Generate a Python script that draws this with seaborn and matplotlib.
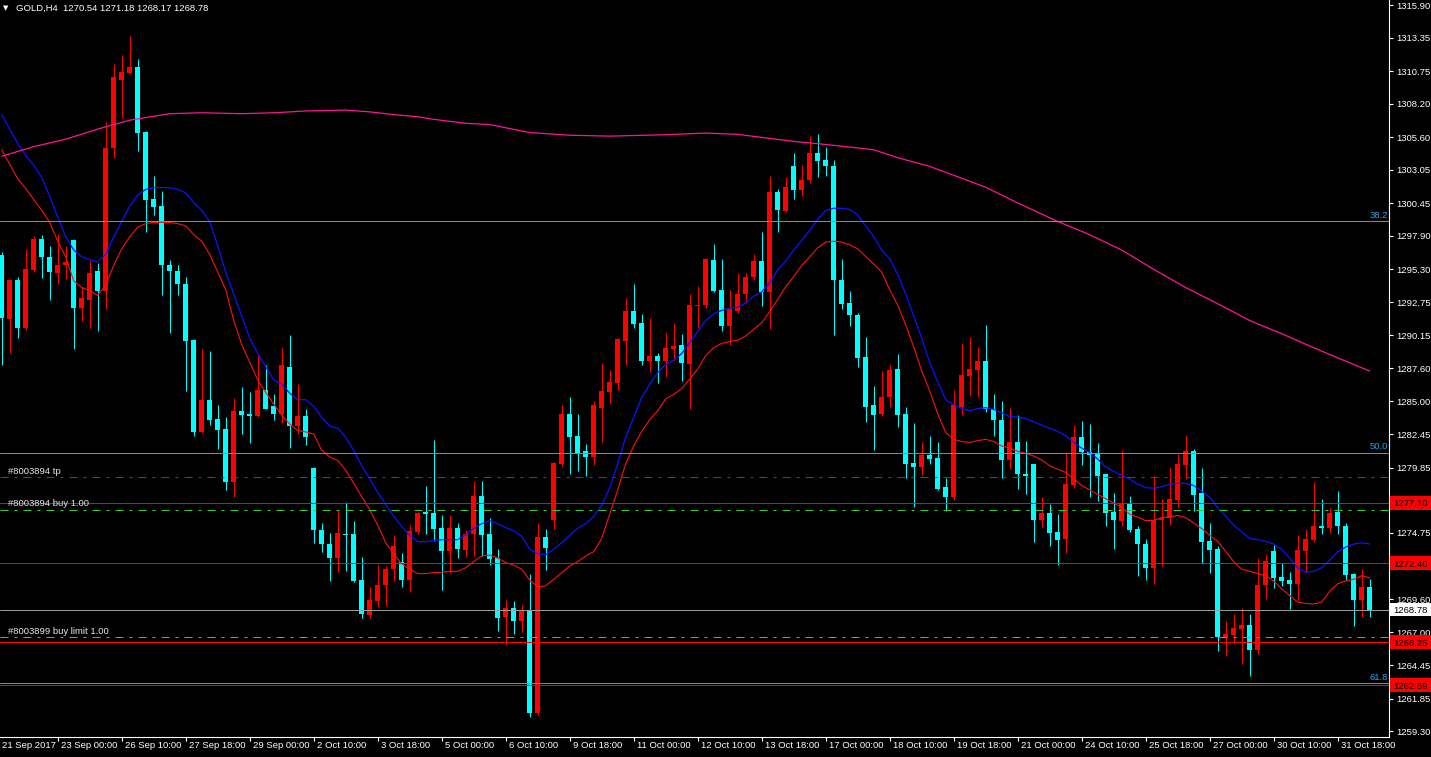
import matplotlib
matplotlib.use("Agg")
import matplotlib.pyplot as plt
import matplotlib.transforms as mtransforms
from matplotlib.patches import Rectangle
import numpy as np
import pandas as pd
import seaborn as sns

# ---------------- data (GOLD, H4) ----------------
opens = [1296.39,1291.41,1294.47,1290.73,1295.26,1297.66,1296.29,1294.98,1295.60,1297.59,
         1292.27,1292.92,1295.15,1293.61,1304.76,1310.07,1310.62,1311.07,1305.99,1300.81,
         1300.23,1295.60,1295.15,1294.16,1289.80,1282.63,1285.14,1283.62,1282.84,1278.76,
         1284.25,1284.01,1283.87,1285.89,1284.62,1284.01,1287.71,1283.08,1283.87,1279.82,
         1275.02,1273.89,1272.79,1274.71,1274.68,1271.08,1268.37,1269.43,1270.66,1271.93,
         1272.52,1271.08,1274.81,1276.39,1276.29,1275.12,1273.37,1275.12,1273.41,1274.68,
         1277.66,1274.68,1272.79,1268.19,1268.91,1267.89,1268.67,1260.72,1274.44,1275.77,
         1280.10,1284.01,1282.29,1281.12,1280.68,1284.52,1285.72,1286.44,1289.70,1292.07,
         1291.11,1288.12,1288.57,1288.16,1289.08,1289.39,1287.95,1292.44,1292.51,1296.01,
         1293.68,1290.90,1292.07,1293.34,1294.74,1295.94,1293.54,1301.33,1299.82,1303.32,
         1301.50,1302.29,1304.35,1303.83,1303.32,1294.47,1292.68,1291.72,1288.47,1284.73,
         1284.01,1285.34,1287.54,1284.01,1280.20,1279.92,1280.85,1280.61,1278.35,1277.59,
         1284.55,1287.02,1287.47,1288.16,1284.45,1283.59,1280.47,1281.81,1279.31,1280.10,
         1275.77,1276.29,1274.85,1274.26,1278.52,1282.22,1281.09,1280.92,1279.31,1276.39,
         1275.71,1277.01,1275.09,1273.89,1272.03,1275.77,1275.88,1277.32,1280.06,1281.12,
         1277.83,1274.16,1273.54,1266.62,1266.79,1267.30,1267.58,1265.66,1270.66,1273.37,
         1271.32,1271.08,1270.80,1273.37,1274.23,1275.29,1275.12,1276.39,1275.29,1271.52,
         1269.53,1270.54]
highs = [1296.63,1294.57,1294.74,1296.87,1297.90,1298.00,1297.14,1298.07,1297.14,1297.70,
         1293.95,1295.94,1295.77,1306.82,1311.27,1311.99,1313.47,1311.69,1306.05,1302.56,
         1301.43,1296.01,1295.67,1294.67,1289.85,1289.08,1288.91,1284.73,1283.77,1285.28,
         1286.10,1285.72,1288.64,1287.81,1285.55,1289.15,1290.18,1286.37,1284.38,1279.89,
         1275.53,1274.75,1276.56,1277.15,1275.67,1272.86,1270.53,1272.24,1272.20,1274.57,
         1273.20,1275.36,1276.39,1278.42,1281.98,1276.12,1276.15,1275.53,1275.02,1278.79,
         1278.79,1275.88,1273.54,1269.50,1269.43,1269.12,1271.52,1275.53,1275.09,1280.27,
         1284.76,1285.31,1284.01,1281.71,1285.04,1287.98,1287.44,1289.94,1293.03,1294.12,
         1291.83,1291.48,1288.74,1290.35,1291.14,1290.28,1293.37,1293.99,1296.22,1297.31,
         1296.11,1293.71,1294.98,1294.98,1296.53,1298.24,1302.56,1301.53,1302.46,1304.35,
         1303.42,1305.72,1305.86,1304.83,1303.83,1296.11,1293.64,1291.90,1290.01,1286.24,
         1287.37,1287.88,1288.67,1284.55,1283.32,1281.81,1282.29,1281.81,1279.03,1285.93,
         1289.53,1290.01,1289.25,1290.97,1285.55,1285.07,1284.52,1283.94,1281.95,1280.15,
         1277.52,1277.01,1276.22,1281.02,1283.18,1283.49,1283.25,1281.78,1279.37,1277.87,
         1281.19,1277.66,1275.29,1274.27,1279.20,1277.38,1279.89,1280.92,1282.39,1281.30,
         1279.82,1275.53,1273.75,1267.89,1268.47,1268.91,1268.40,1272.79,1273.13,1273.82,
         1272.45,1271.69,1274.57,1275.09,1278.69,1277.42,1276.67,1278.04,1275.53,1271.66,
         1271.93,1271.18]
lows = [1287.88,1288.74,1289.94,1290.60,1295.08,1294.64,1292.92,1294.12,1294.57,1289.08,
        1291.31,1290.69,1290.52,1292.24,1304.00,1307.09,1310.55,1304.52,1298.24,1299.54,
        1293.30,1290.35,1293.27,1285.82,1282.29,1282.56,1283.15,1281.30,1278.07,1277.52,
        1282.46,1281.78,1283.80,1284.38,1283.56,1283.32,1281.36,1282.46,1281.61,1273.99,
        1273.30,1270.97,1271.69,1271.76,1270.90,1268.09,1268.16,1269.02,1269.09,1271.01,
        1270.53,1270.15,1274.70,1274.68,1274.16,1270.32,1271.66,1272.79,1272.86,1272.96,
        1272.96,1272.28,1267.10,1266.00,1266.89,1267.03,1260.44,1260.54,1271.83,1275.09,
        1279.99,1279.31,1279.58,1279.20,1280.06,1281.88,1284.86,1285.89,1287.88,1290.76,
        1287.88,1287.26,1286.44,1286.92,1288.23,1286.58,1284.38,1290.73,1292.27,1293.51,
        1290.49,1289.42,1291.93,1292.68,1294.50,1292.44,1290.63,1298.17,1299.75,1300.81,
        1301.02,1302.01,1302.46,1302.60,1290.21,1292.17,1290.90,1287.71,1283.42,1281.19,
        1283.83,1284.55,1282.98,1279.07,1276.80,1279.24,1280.16,1278.11,1276.46,1277.32,
        1283.94,1285.41,1285.31,1284.21,1282.33,1279.03,1279.72,1278.14,1277.76,1274.06,
        1275.19,1273.75,1272.28,1273.20,1278.28,1280.06,1277.52,1277.25,1275.29,1273.54,
        1275.29,1274.85,1271.42,1271.08,1270.80,1272.17,1275.36,1276.73,1278.96,1276.46,
        1272.45,1271.66,1265.52,1265.17,1266.17,1264.56,1263.60,1265.31,1269.60,1270.46,
        1270.63,1268.81,1269.50,1271.66,1274.06,1274.68,1274.78,1274.68,1271.08,1267.47,
        1268.22,1268.17]
closes = [1291.48,1294.47,1290.73,1295.33,1297.66,1296.29,1295.08,1295.60,1295.87,1292.27,
          1293.03,1295.02,1293.61,1304.76,1310.25,1310.69,1311.07,1305.89,1300.74,1300.13,
          1295.60,1295.15,1294.12,1289.73,1282.63,1285.14,1283.59,1282.81,1278.76,1284.25,
          1283.94,1283.90,1285.89,1284.45,1284.01,1287.81,1283.08,1283.87,1282.22,1275.02,
          1273.89,1272.79,1274.75,1274.61,1271.01,1268.43,1269.50,1270.66,1271.93,1273.72,
          1271.08,1274.92,1276.29,1276.22,1275.09,1273.37,1275.12,1273.54,1274.68,1277.66,
          1274.57,1272.69,1268.13,1268.91,1267.89,1268.67,1260.72,1274.44,1273.58,1280.20,
          1284.01,1282.22,1281.02,1280.68,1284.69,1285.82,1286.51,1289.84,1292.07,1291.04,
          1288.16,1288.57,1288.16,1289.15,1289.32,1287.98,1292.51,1292.55,1296.11,1293.61,
          1290.87,1292.17,1293.37,1294.74,1295.94,1293.54,1301.33,1299.89,1301.70,1301.50,
          1302.29,1304.35,1303.76,1303.32,1294.47,1292.62,1291.76,1288.40,1284.55,1283.94,
          1285.34,1287.47,1283.94,1280.16,1279.92,1280.85,1280.51,1278.21,1277.59,1284.69,
          1287.06,1287.54,1288.16,1284.45,1283.59,1280.47,1281.81,1279.31,1279.20,1275.77,
          1276.29,1274.78,1274.23,1278.55,1282.22,1281.09,1280.85,1279.20,1276.32,1275.77,
          1277.01,1275.02,1273.89,1272.03,1275.77,1275.94,1277.38,1280.16,1281.12,1277.69,
          1274.06,1273.41,1266.62,1266.86,1267.37,1267.58,1265.66,1270.73,1272.55,1271.25,
          1271.01,1270.80,1273.41,1274.27,1275.29,1275.16,1276.29,1275.26,1271.49,1269.53,
          1270.56,1268.78]

# fast moving average (red line)
ma_fast = [1304.62,1303.49,1302.36,1301.60,1300.74,1299.89,1298.96,1297.49,1296.29,1294.40,
           1293.88,1293.64,1293.27,1294.06,1295.60,1296.90,1297.83,1298.58,1298.86,1298.96,
           1298.96,1298.96,1298.86,1298.69,1298.00,1297.49,1296.46,1295.08,1293.71,1291.31,
           1289.43,1288.05,1286.68,1285.72,1284.79,1283.94,1283.25,1282.74,1282.63,1282.46,
           1281.19,1280.68,1280.40,1279.65,1278.62,1277.59,1276.56,1275.36,1273.99,1273.13,
           1272.34,1271.93,1271.59,1271.59,1271.66,1271.69,1271.76,1271.76,1272.04,1272.52,
           1272.96,1273.03,1272.79,1272.45,1272.24,1271.93,1271.08,1270.56,1270.63,1271.14,
           1271.66,1272.17,1272.52,1272.96,1273.30,1274.33,1276.22,1278.11,1280.16,1281.54,
           1282.67,1283.59,1284.28,1285.21,1285.55,1286.00,1286.75,1287.54,1288.57,1289.19,
           1289.53,1289.67,1289.77,1290.11,1290.63,1291.14,1292.00,1292.96,1293.95,1294.74,
           1295.60,1296.29,1296.97,1297.42,1297.49,1297.42,1297.21,1296.90,1296.29,1295.70,
           1295.08,1293.71,1292.51,1290.97,1289.25,1287.37,1285.82,1284.04,1282.57,1282.05,
           1281.88,1281.81,1281.95,1282.05,1281.88,1281.54,1281.36,1281.12,1280.95,1280.75,
           1280.44,1279.99,1279.72,1279.48,1278.96,1278.45,1278.11,1277.76,1277.42,1277.08,
           1276.73,1276.22,1275.98,1275.71,1275.74,1275.94,1276.01,1276.12,1275.94,1275.53,
           1275.09,1274.57,1274.09,1273.30,1272.52,1271.93,1271.76,1271.59,1271.42,1271.01,
           1270.39,1269.88,1269.36,1269.26,1269.22,1269.36,1270.22,1270.80,1271.01,1271.14,
           1271.42,1271.25]
# slower moving average (blue line)
ma_slow = [1307.36,1306.23,1305.10,1304.17,1303.42,1302.46,1300.98,1299.37,1297.83,1296.80,
           1296.29,1296.05,1295.87,1296.46,1297.83,1299.03,1300.23,1301.09,1301.53,1301.67,
           1301.67,1301.67,1301.53,1301.26,1300.50,1299.89,1299.03,1297.14,1295.08,1293.37,
           1291.65,1289.94,1288.74,1287.71,1286.68,1286.34,1285.65,1285.14,1285.14,1284.62,
           1283.77,1283.08,1282.91,1282.22,1281.19,1279.99,1278.96,1277.93,1276.97,1276.05,
           1275.26,1274.57,1274.09,1274.06,1274.16,1274.23,1274.23,1274.23,1274.61,1275.12,
           1275.47,1275.71,1275.47,1275.19,1274.92,1274.50,1273.48,1273.13,1273.06,1273.48,
           1273.99,1274.57,1275.12,1275.47,1276.05,1276.91,1278.28,1280.16,1282.22,1283.77,
           1285.31,1286.34,1287.26,1287.88,1288.22,1288.74,1289.60,1290.45,1291.31,1291.83,
           1292.10,1292.27,1292.34,1292.68,1293.20,1293.54,1294.23,1295.26,1295.94,1296.80,
           1297.55,1298.34,1299.20,1299.89,1300.06,1300.06,1299.96,1299.54,1298.69,1297.83,
           1296.80,1296.11,1294.91,1293.37,1291.65,1289.94,1288.05,1286.51,1285.14,1284.73,
           1284.45,1284.28,1284.45,1284.52,1284.38,1284.11,1283.83,1283.77,1283.66,1283.42,
           1283.15,1282.91,1282.67,1282.33,1281.81,1281.36,1281.02,1280.51,1279.89,1279.55,
           1279.24,1278.96,1278.55,1278.28,1278.24,1278.35,1278.55,1278.62,1278.62,1278.45,
           1278.00,1277.52,1276.73,1276.05,1275.36,1274.85,1274.33,1274.23,1274.09,1273.89,
           1273.48,1272.79,1272.04,1271.69,1271.76,1272.04,1272.62,1273.30,1273.65,1273.89,
           1273.99,1273.89]
# long moving average (magenta line), sampled at bar indices
ma_long_idx = [0, 4, 8, 12, 16, 21, 25, 30, 34, 38, 43, 46, 49, 52, 54, 58, 61, 66, 71, 76,
               83, 88, 92, 99, 103, 107, 109, 112, 116, 119, 123, 127, 132, 136, 140, 144,
               148, 152, 156, 160, 164, 167, 171]
ma_long_val = [1304.11, 1304.86, 1305.44, 1306.23, 1306.92, 1307.43, 1307.50, 1307.43, 1307.50,
               1307.64, 1307.71, 1307.57, 1307.36, 1307.19, 1306.99, 1306.68, 1306.58, 1305.96,
               1305.75, 1305.68, 1305.79, 1305.92, 1305.82, 1305.27, 1305.03, 1304.76, 1304.62,
               1304.00, 1303.32, 1302.63, 1301.70, 1300.47, 1299.03, 1298.00, 1296.80, 1295.30,
               1293.88, 1292.62, 1291.31, 1290.28, 1289.19, 1288.40, 1287.37]

price_ticks = [1315.90, 1313.35, 1310.75, 1308.20, 1305.60, 1303.05, 1300.45, 1297.90, 1295.30,
               1292.75, 1290.15, 1287.60, 1285.00, 1282.45, 1279.85, 1277.30, 1274.75, 1272.15,
               1269.60, 1267.00, 1264.45, 1261.85, 1259.30]
hidden_tick_labels = [1277.30]   # fully covered by the order price box in the reference
first_date_label = "21 Sep 2017"
date_labels = ["23 Sep 00:00", "26 Sep 10:00", "27 Sep 18:00", "29 Sep 00:00", "2 Oct 10:00",
               "3 Oct 18:00", "5 Oct 00:00", "6 Oct 10:00", "9 Oct 18:00", "11 Oct 00:00",
               "12 Oct 10:00", "13 Oct 18:00", "17 Oct 00:00", "18 Oct 10:00", "19 Oct 18:00",
               "21 Oct 00:00", "24 Oct 10:00", "25 Oct 18:00", "27 Oct 00:00", "30 Oct 10:00",
               "31 Oct 18:00"]
date_label_bars = [7 + 8 * j for j in range(len(date_labels))]

fib_levels = [1299.03, 1281.02, 1263.02]
fib_names = ["38.2", "50.0", "61.8"]
red_levels = [1277.10, 1272.40, 1266.25, 1262.89]
tp_level = 1279.10
buy_level = 1276.56
buy_limit_level = 1266.62
last_price = 1268.78
order_labels = ["#8003894 tp", "#8003894 buy 1.00", "#8003899 buy limit 1.00"]
title_text = "GOLD,H4  1270.54 1271.18 1268.17 1268.78"

# ---------------- style ----------------
sns.set_theme(style="dark", rc={"axes.facecolor": "black", "figure.facecolor": "black",
                                "axes.edgecolor": "white", "axes.grid": False})
plt.rcParams['font.family'] = ['Liberation Sans', 'DejaVu Sans']

W, H = 1431, 757
fig = plt.figure(figsize=(W / 100, H / 100), dpi=100)
fig.patch.set_facecolor('black')
ax = fig.add_axes([0, 20 / H, 1389 / W, 737 / H])
ax.set_facecolor('black')

n = len(closes)
assert len(opens) == n and len(highs) == n and len(lows) == n
assert len(ma_fast) == n and len(ma_slow) == n
idx = np.arange(n)
o = np.array(opens); c = np.array(closes); hi = np.array(highs); lo = np.array(lows)
bull = c >= o
cols = np.where(bull, '#FF0000', '#00FFFF')

# candles
ax.vlines(idx, lo, hi, colors=cols, linewidth=0.75, zorder=3)
ax.bar(idx, np.maximum(np.abs(c - o), 0.07), bottom=np.minimum(o, c), width=0.62,
       color=cols, linewidth=0, zorder=3.5)

# moving averages with seaborn
df = pd.DataFrame({"bar": idx, "fast": ma_fast, "slow": ma_slow})
sns.lineplot(data=df, x="bar", y="slow", color="#0A14FF", linewidth=0.9, ax=ax, zorder=4, legend=False)
sns.lineplot(data=df, x="bar", y="fast", color="#FF1010", linewidth=0.8, ax=ax, zorder=4, legend=False)
sns.lineplot(x=ma_long_idx, y=ma_long_val, color="#FF1493", linewidth=0.9, ax=ax, zorder=4, legend=False)

# horizontal objects (1px lines)
fib_col = '#22A6EE'
LW = 0.72
DASH = (8.0, 6.0, 3.0, 6.0)
for lv in fib_levels:
    ax.axhline(lv, color=fib_col, linewidth=LW, snap=True, zorder=5)
for lv in red_levels:
    ax.axhline(lv, color='#FF0000', linewidth=LW, snap=True, zorder=5)
ax.axhline(last_price, color='#9A9A9A', linewidth=LW, snap=True, zorder=5)
ax.axhline(tp_level, color='#FF0000', linewidth=LW, snap=True, dashes=DASH, zorder=5)
ax.axhline(buy_level, color='#32CD32', linewidth=LW, snap=True, dashes=DASH, zorder=5)
ax.axhline(buy_limit_level, color='#32CD32', linewidth=LW, snap=True, dashes=DASH, zorder=5)

# limits
ax.set_xlim(-0.2125, 173.41)
ax.set_ylim(1258.85, 1316.29)

# spines
for s in ['top', 'left']:
    ax.spines[s].set_visible(False)
for s in ['right', 'bottom']:
    ax.spines[s].set_color('white')
    ax.spines[s].set_linewidth(0.8)

# right price axis
ax.yaxis.tick_right()
ax.set_yticks(price_ticks)
ax.set_yticklabels(["" if v in hidden_tick_labels else f"{v:.2f}" for v in price_ticks])
ax.tick_params(axis='y', right=True, left=False, labelright=True, labelleft=False,
               colors='white', length=3, width=0.8, pad=2, labelsize=6.8, direction='out')
ax.set_ylabel("")
ax.set_xlabel("")

# bottom time axis
ax.set_xticks(date_label_bars)
ax.tick_params(axis='x', bottom=True, labelbottom=False, colors='white', length=3, width=0.8,
               direction='out')
down = mtransforms.ScaledTranslation(0.035, -0.045, fig.dpi_scale_trans)
xtrans = mtransforms.blended_transform_factory(ax.transData, ax.transAxes) + down
for b, lab in zip(date_label_bars, date_labels):
    ax.text(b, 0, lab, transform=xtrans, ha='left', va='top', color='white', fontsize=6.8,
            clip_on=False)
ax.text(2 / 1389, 0, first_date_label,
        transform=ax.transAxes + mtransforms.ScaledTranslation(0, -0.045, fig.dpi_scale_trans),
        ha='left', va='top', color='white', fontsize=6.8, clip_on=False)

# labels on objects
ytrans = mtransforms.blended_transform_factory(ax.transAxes, ax.transData)
for lv, name in zip(fib_levels, fib_names):
    ax.text(0.9993, lv + 0.12, name, transform=ytrans, ha='right', va='bottom', color=fib_col,
            fontsize=6.8, zorder=6)
for lv, lab in zip([tp_level, buy_level, buy_limit_level], order_labels):
    ax.text(8 / 1389, lv + 0.1, lab, transform=ytrans, ha='left', va='bottom', color='#E8E8E8',
            fontsize=6.8, zorder=6)

# price boxes on the axis
box_h = 1.05
for lv, fc in [(lv, '#FF0000') for lv in red_levels] + [(last_price, '#FFFFFF')]:
    ax.add_patch(Rectangle((1390 / 1389, lv - box_h / 2), 41 / 1389, box_h, transform=ytrans,
                           facecolor=fc, edgecolor='none', clip_on=False, zorder=10))
    ax.text(1393 / 1389, lv, f"{lv:.2f}", transform=ytrans, ha='left', va='center_baseline',
            color='black', fontsize=6.8, clip_on=False, zorder=11)

# title
fig.text(3 / W, 1 - 8 / H, "\u25BC", color='white', fontsize=5, ha='left', va='center',
         family=['DejaVu Sans'])
fig.text(16 / W, 1 - 8 / H, title_text, color='white', fontsize=6.8, ha='left', va='center')

fig.savefig("out.png", dpi=100, facecolor='black')
